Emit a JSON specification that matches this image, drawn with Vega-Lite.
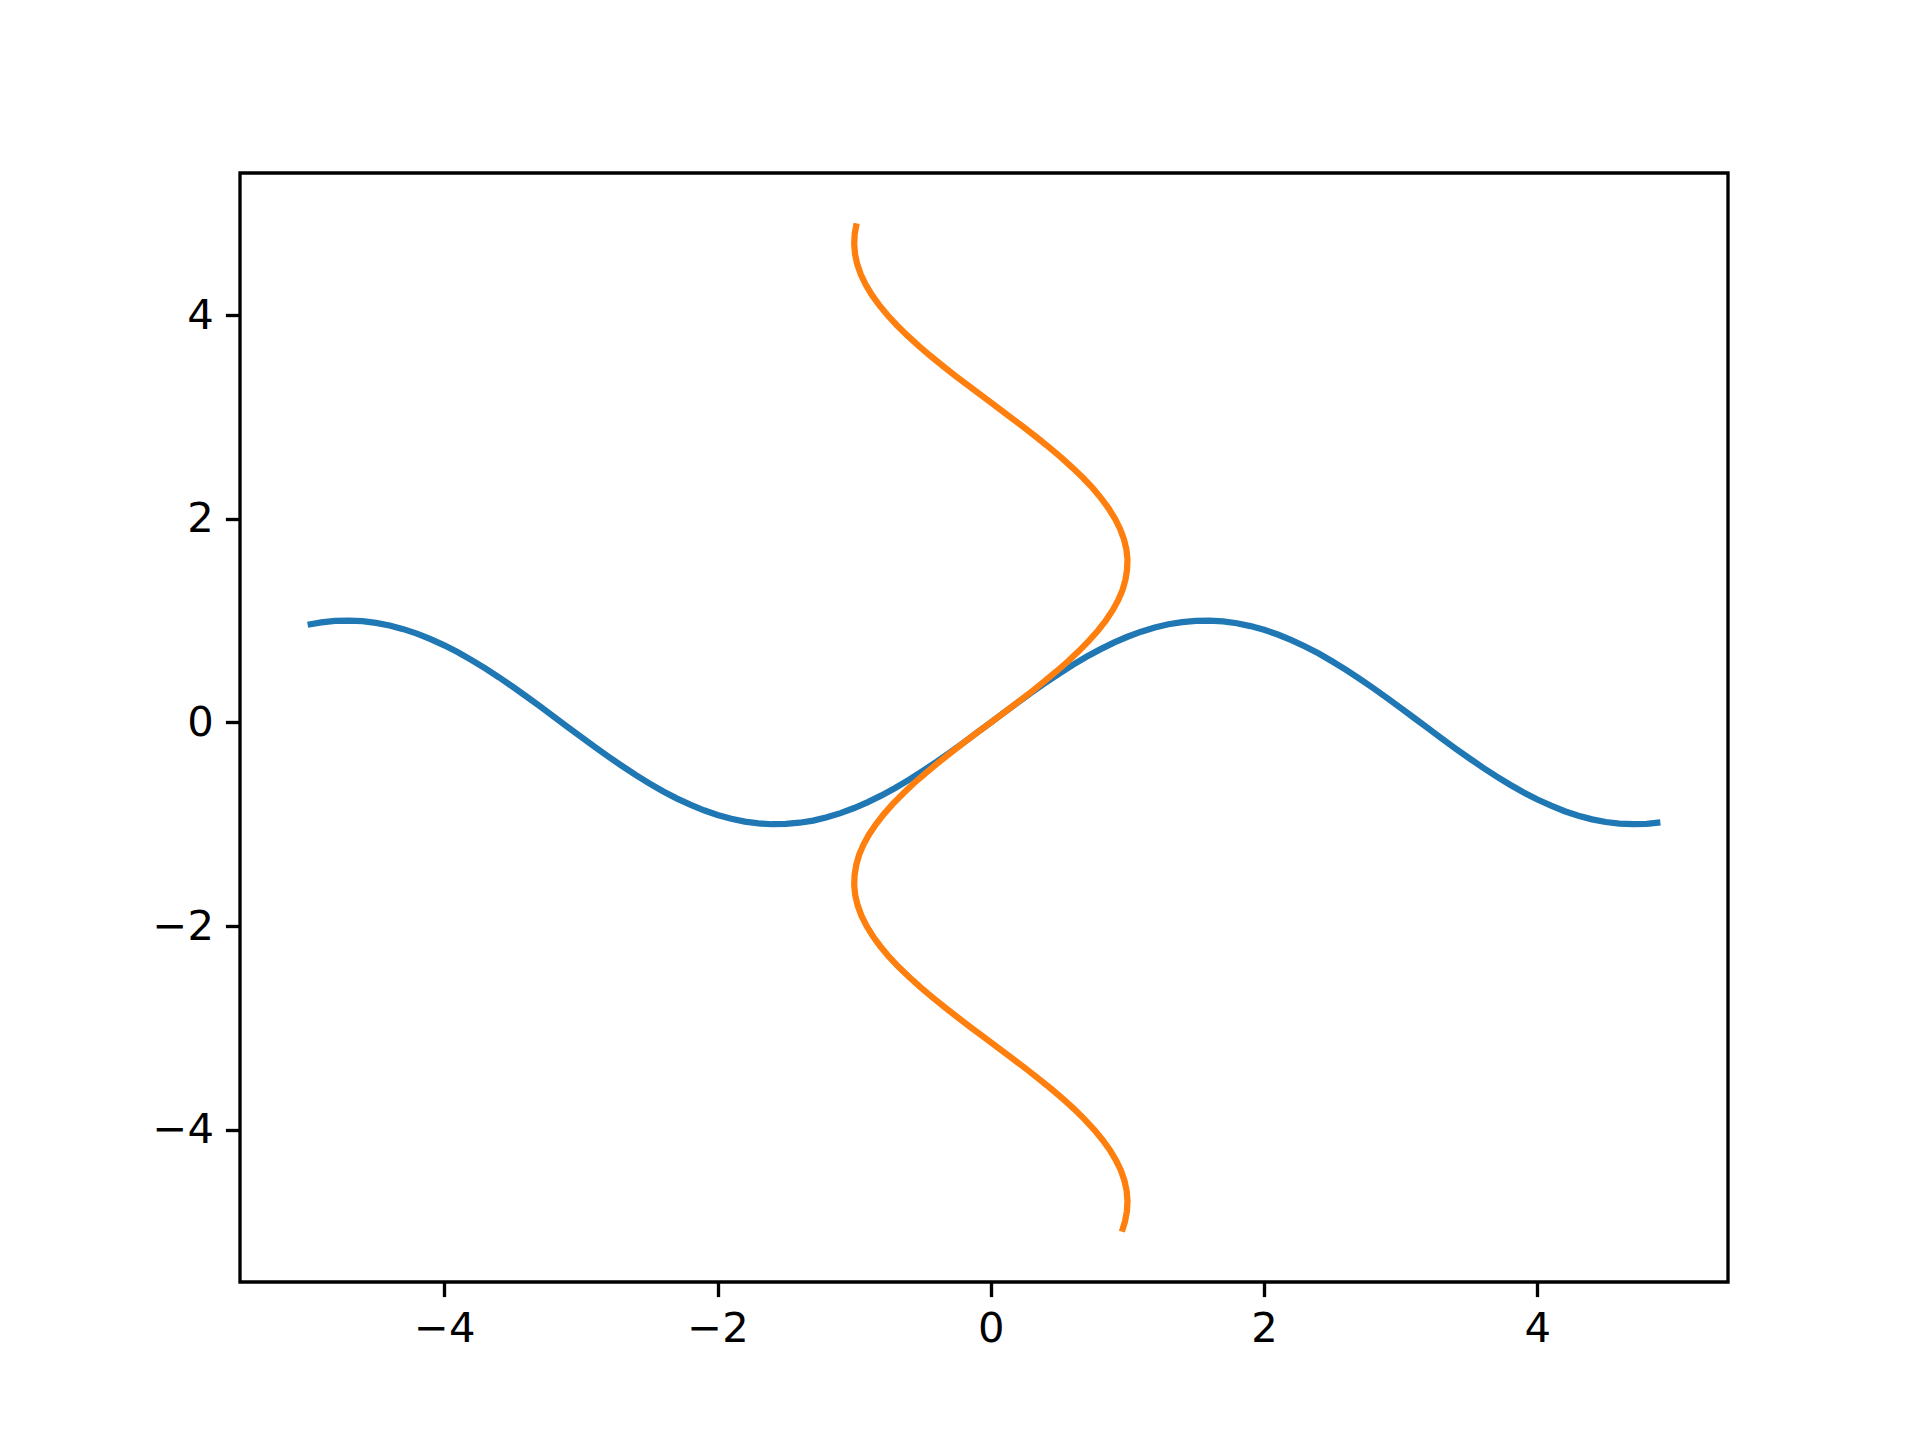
{
  "$schema": "https://vega.github.io/schema/vega-lite/v6.json",
  "autosize": "none",
  "width": 1488,
  "height": 1109,
  "padding": {"left": 240, "top": 173, "right": 192, "bottom": 158},
  "background": "white",
  "config": {
    "view": {"stroke": "black", "strokeWidth": 3.33},
    "axis": {
      "grid": false,
      "domain": false,
      "ticks": true,
      "tickColor": "black",
      "tickWidth": 3.33,
      "tickSize": 14.6,
      "labelFont": "DejaVu Sans",
      "labelFontSize": 41.7,
      "labelColor": "black",
      "labelPadding": 12,
      "format": "d",
      "title": null
    }
  },
  "layer": [
    {
      "data": {"values": [
        {"x": -5.0, "y": 0.959}, {"x": -4.9, "y": 0.982}, {"x": -4.8, "y": 0.996}, {"x": -4.7, "y": 1.0},
        {"x": -4.6, "y": 0.994}, {"x": -4.5, "y": 0.978}, {"x": -4.4, "y": 0.952}, {"x": -4.3, "y": 0.916},
        {"x": -4.2, "y": 0.872}, {"x": -4.1, "y": 0.818}, {"x": -4.0, "y": 0.757}, {"x": -3.9, "y": 0.688},
        {"x": -3.8, "y": 0.612}, {"x": -3.7, "y": 0.53}, {"x": -3.6, "y": 0.443}, {"x": -3.5, "y": 0.351},
        {"x": -3.4, "y": 0.256}, {"x": -3.3, "y": 0.158}, {"x": -3.2, "y": 0.058}, {"x": -3.1, "y": -0.042},
        {"x": -3.0, "y": -0.141}, {"x": -2.9, "y": -0.239}, {"x": -2.8, "y": -0.335}, {"x": -2.7, "y": -0.427},
        {"x": -2.6, "y": -0.516}, {"x": -2.5, "y": -0.598}, {"x": -2.4, "y": -0.676}, {"x": -2.3, "y": -0.746},
        {"x": -2.2, "y": -0.808}, {"x": -2.1, "y": -0.863}, {"x": -2.0, "y": -0.909}, {"x": -1.9, "y": -0.946},
        {"x": -1.8, "y": -0.974}, {"x": -1.7, "y": -0.992}, {"x": -1.6, "y": -1.0}, {"x": -1.5, "y": -0.997},
        {"x": -1.4, "y": -0.985}, {"x": -1.3, "y": -0.964}, {"x": -1.2, "y": -0.932}, {"x": -1.1, "y": -0.891},
        {"x": -1.0, "y": -0.841}, {"x": -0.9, "y": -0.783}, {"x": -0.8, "y": -0.717}, {"x": -0.7, "y": -0.644},
        {"x": -0.6, "y": -0.565}, {"x": -0.5, "y": -0.479}, {"x": -0.4, "y": -0.389}, {"x": -0.3, "y": -0.296},
        {"x": -0.2, "y": -0.199}, {"x": -0.1, "y": -0.1}, {"x": 0.0, "y": 0.0}, {"x": 0.1, "y": 0.1},
        {"x": 0.2, "y": 0.199}, {"x": 0.3, "y": 0.296}, {"x": 0.4, "y": 0.389}, {"x": 0.5, "y": 0.479},
        {"x": 0.6, "y": 0.565}, {"x": 0.7, "y": 0.644}, {"x": 0.8, "y": 0.717}, {"x": 0.9, "y": 0.783},
        {"x": 1.0, "y": 0.841}, {"x": 1.1, "y": 0.891}, {"x": 1.2, "y": 0.932}, {"x": 1.3, "y": 0.964},
        {"x": 1.4, "y": 0.985}, {"x": 1.5, "y": 0.997}, {"x": 1.6, "y": 1.0}, {"x": 1.7, "y": 0.992},
        {"x": 1.8, "y": 0.974}, {"x": 1.9, "y": 0.946}, {"x": 2.0, "y": 0.909}, {"x": 2.1, "y": 0.863},
        {"x": 2.2, "y": 0.808}, {"x": 2.3, "y": 0.746}, {"x": 2.4, "y": 0.676}, {"x": 2.5, "y": 0.598},
        {"x": 2.6, "y": 0.516}, {"x": 2.7, "y": 0.427}, {"x": 2.8, "y": 0.335}, {"x": 2.9, "y": 0.239},
        {"x": 3.0, "y": 0.141}, {"x": 3.1, "y": 0.042}, {"x": 3.2, "y": -0.058}, {"x": 3.3, "y": -0.158},
        {"x": 3.4, "y": -0.256}, {"x": 3.5, "y": -0.351}, {"x": 3.6, "y": -0.443}, {"x": 3.7, "y": -0.53},
        {"x": 3.8, "y": -0.612}, {"x": 3.9, "y": -0.688}, {"x": 4.0, "y": -0.757}, {"x": 4.1, "y": -0.818},
        {"x": 4.2, "y": -0.872}, {"x": 4.3, "y": -0.916}, {"x": 4.4, "y": -0.952}, {"x": 4.5, "y": -0.978},
        {"x": 4.6, "y": -0.994}, {"x": 4.7, "y": -1.0}, {"x": 4.8, "y": -0.996}, {"x": 4.9, "y": -0.982}
      ]},
      "mark": {"type": "line", "color": "#1f77b4", "strokeWidth": 6.25, "strokeCap": "butt", "clip": true},
      "encoding": {
        "x": {"field": "x", "type": "quantitative", "scale": {"domain": [-5.495, 5.395], "nice": false, "zero": false},
              "axis": {"values": [-4, -2, 0, 2, 4]}},
        "y": {"field": "y", "type": "quantitative", "scale": {"domain": [-5.495, 5.395], "nice": false, "zero": false},
              "axis": {"values": [-4, -2, 0, 2, 4]}}
      }
    },
    {
      "data": {"values": [
        {"y": -5.0, "x": 0.959}, {"y": -4.9, "x": 0.982}, {"y": -4.8, "x": 0.996}, {"y": -4.7, "x": 1.0},
        {"y": -4.6, "x": 0.994}, {"y": -4.5, "x": 0.978}, {"y": -4.4, "x": 0.952}, {"y": -4.3, "x": 0.916},
        {"y": -4.2, "x": 0.872}, {"y": -4.1, "x": 0.818}, {"y": -4.0, "x": 0.757}, {"y": -3.9, "x": 0.688},
        {"y": -3.8, "x": 0.612}, {"y": -3.7, "x": 0.53}, {"y": -3.6, "x": 0.443}, {"y": -3.5, "x": 0.351},
        {"y": -3.4, "x": 0.256}, {"y": -3.3, "x": 0.158}, {"y": -3.2, "x": 0.058}, {"y": -3.1, "x": -0.042},
        {"y": -3.0, "x": -0.141}, {"y": -2.9, "x": -0.239}, {"y": -2.8, "x": -0.335}, {"y": -2.7, "x": -0.427},
        {"y": -2.6, "x": -0.516}, {"y": -2.5, "x": -0.598}, {"y": -2.4, "x": -0.676}, {"y": -2.3, "x": -0.746},
        {"y": -2.2, "x": -0.808}, {"y": -2.1, "x": -0.863}, {"y": -2.0, "x": -0.909}, {"y": -1.9, "x": -0.946},
        {"y": -1.8, "x": -0.974}, {"y": -1.7, "x": -0.992}, {"y": -1.6, "x": -1.0}, {"y": -1.5, "x": -0.997},
        {"y": -1.4, "x": -0.985}, {"y": -1.3, "x": -0.964}, {"y": -1.2, "x": -0.932}, {"y": -1.1, "x": -0.891},
        {"y": -1.0, "x": -0.841}, {"y": -0.9, "x": -0.783}, {"y": -0.8, "x": -0.717}, {"y": -0.7, "x": -0.644},
        {"y": -0.6, "x": -0.565}, {"y": -0.5, "x": -0.479}, {"y": -0.4, "x": -0.389}, {"y": -0.3, "x": -0.296},
        {"y": -0.2, "x": -0.199}, {"y": -0.1, "x": -0.1}, {"y": 0.0, "x": 0.0}, {"y": 0.1, "x": 0.1},
        {"y": 0.2, "x": 0.199}, {"y": 0.3, "x": 0.296}, {"y": 0.4, "x": 0.389}, {"y": 0.5, "x": 0.479},
        {"y": 0.6, "x": 0.565}, {"y": 0.7, "x": 0.644}, {"y": 0.8, "x": 0.717}, {"y": 0.9, "x": 0.783},
        {"y": 1.0, "x": 0.841}, {"y": 1.1, "x": 0.891}, {"y": 1.2, "x": 0.932}, {"y": 1.3, "x": 0.964},
        {"y": 1.4, "x": 0.985}, {"y": 1.5, "x": 0.997}, {"y": 1.6, "x": 1.0}, {"y": 1.7, "x": 0.992},
        {"y": 1.8, "x": 0.974}, {"y": 1.9, "x": 0.946}, {"y": 2.0, "x": 0.909}, {"y": 2.1, "x": 0.863},
        {"y": 2.2, "x": 0.808}, {"y": 2.3, "x": 0.746}, {"y": 2.4, "x": 0.676}, {"y": 2.5, "x": 0.598},
        {"y": 2.6, "x": 0.516}, {"y": 2.7, "x": 0.427}, {"y": 2.8, "x": 0.335}, {"y": 2.9, "x": 0.239},
        {"y": 3.0, "x": 0.141}, {"y": 3.1, "x": 0.042}, {"y": 3.2, "x": -0.058}, {"y": 3.3, "x": -0.158},
        {"y": 3.4, "x": -0.256}, {"y": 3.5, "x": -0.351}, {"y": 3.6, "x": -0.443}, {"y": 3.7, "x": -0.53},
        {"y": 3.8, "x": -0.612}, {"y": 3.9, "x": -0.688}, {"y": 4.0, "x": -0.757}, {"y": 4.1, "x": -0.818},
        {"y": 4.2, "x": -0.872}, {"y": 4.3, "x": -0.916}, {"y": 4.4, "x": -0.952}, {"y": 4.5, "x": -0.978},
        {"y": 4.6, "x": -0.994}, {"y": 4.7, "x": -1.0}, {"y": 4.8, "x": -0.996}, {"y": 4.9, "x": -0.982}
      ]},
      "mark": {"type": "line", "color": "#ff7f0e", "strokeWidth": 6.25, "strokeCap": "butt", "clip": true},
      "encoding": {
        "x": {"field": "x", "type": "quantitative"},
        "y": {"field": "y", "type": "quantitative"},
        "order": {"field": "y", "type": "quantitative"}
      }
    }
  ]
}
